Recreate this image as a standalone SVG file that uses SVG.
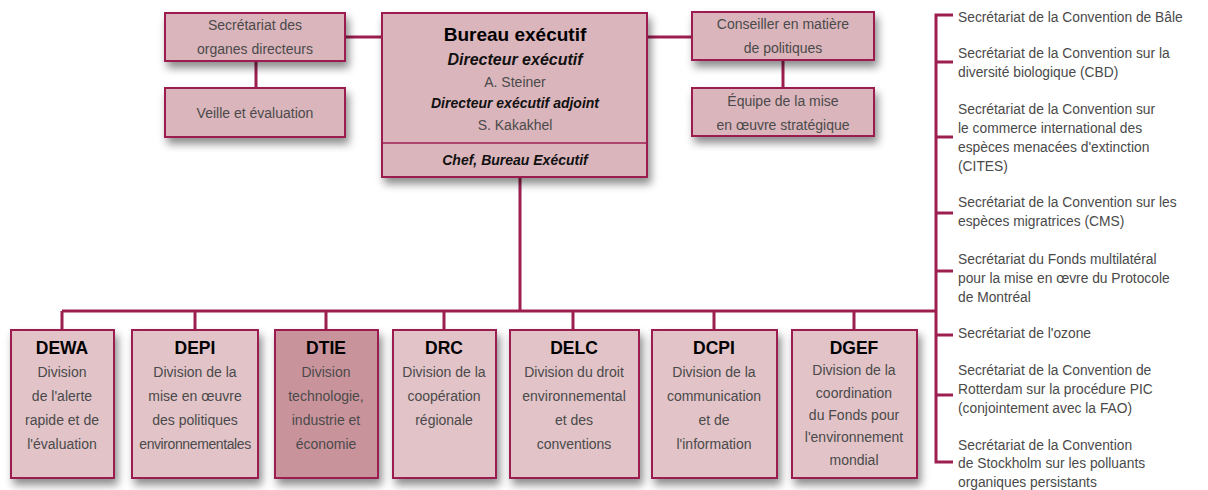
<svg xmlns="http://www.w3.org/2000/svg" width="1208" height="490" viewBox="0 0 1208 490">
<defs>
<filter id="sh" x="-20%" y="-20%" width="150%" height="150%">
<feDropShadow dx="3" dy="6" stdDeviation="4" flood-color="#000" flood-opacity="0.45"/>
</filter>
<style>
.box{fill:#dbb5bc;stroke:#9c1f50;stroke-width:2;filter:url(#sh)}
.lbox{fill:#e1c3c8;stroke:#9c1f50;stroke-width:2;filter:url(#sh)}
.dbox{fill:#c9939c;stroke:#9c1f50;stroke-width:2;filter:url(#sh)}
.ln{fill:none;stroke:#9c1f50;stroke-width:3}
text{font-family:"Liberation Sans",Arial,sans-serif;fill:#4a4a4a;font-size:14px}
.c{text-anchor:middle}
.t{font-weight:bold;fill:#000}
.h1{font-size:19px}
.h2{font-size:16px}
.h3{font-size:17.5px}
.bi{font-weight:bold;font-style:italic;fill:#111}
.r{font-size:13.8px}
.env{letter-spacing:-0.4px}
</style>
</defs>
<rect width="1208" height="490" fill="#fff"/>
<g id="connectors">
<line class="ln" x1="345" y1="37" x2="382" y2="37"/>
<line class="ln" x1="647" y1="37" x2="692" y2="37"/>
<line class="ln" x1="256" y1="61" x2="256" y2="88"/>
<line class="ln" x1="783" y1="60" x2="783" y2="88"/>
<line class="ln" x1="520" y1="177" x2="520" y2="311"/>
<line class="ln" x1="62" y1="311" x2="936" y2="311"/>
<line class="ln" x1="62" y1="311" x2="62" y2="330"/>
<line class="ln" x1="195" y1="311" x2="195" y2="330"/>
<line class="ln" x1="326" y1="311" x2="326" y2="330"/>
<line class="ln" x1="444" y1="311" x2="444" y2="330"/>
<line class="ln" x1="573" y1="311" x2="573" y2="330"/>
<line class="ln" x1="714" y1="311" x2="714" y2="330"/>
<line class="ln" x1="854" y1="311" x2="854" y2="330"/>
<path class="ln" d="M953 15H936V462H953"/>
<line class="ln" x1="936" y1="62" x2="953" y2="62"/>
<line class="ln" x1="936" y1="137" x2="953" y2="137"/>
<line class="ln" x1="936" y1="213" x2="953" y2="213"/>
<line class="ln" x1="936" y1="271" x2="953" y2="271"/>
<line class="ln" x1="936" y1="335" x2="953" y2="335"/>
<line class="ln" x1="936" y1="395" x2="953" y2="395"/>
</g>
<g id="secretariat-organes">
<rect class="box" x="165" y="13" width="180" height="48"/>
<text class="c" x="255" y="30">Secrétariat des</text>
<text class="c" x="255" y="54">organes directeurs</text>
</g>
<g id="veille">
<rect class="box" x="165" y="88" width="180" height="49"/>
<text class="c" x="255" y="118">Veille et évaluation</text>
</g>
<g id="bureau">
<rect class="box" x="382" y="13" width="265" height="164"/>
<line x1="382" y1="143" x2="647" y2="143" stroke="#9c1f50" stroke-width="1.5"/>
<text class="c t h1" x="515" y="41">Bureau exécutif</text>
<text class="c bi h2" x="515" y="65">Directeur exécutif</text>
<text class="c" x="515" y="87">A. Steiner</text>
<text class="c bi" x="515" y="108">Directeur exécutif adjoint</text>
<text class="c" x="515" y="130">S. Kakakhel</text>
<text class="c bi" x="515" y="165">Chef, Bureau Exécutif</text>
</g>
<g id="conseiller">
<rect class="box" x="692" y="12" width="182" height="48"/>
<text class="c" x="783" y="29">Conseiller en matière</text>
<text class="c" x="783" y="53">de politiques</text>
</g>
<g id="equipe">
<rect class="box" x="692" y="88" width="182" height="48"/>
<text class="c" x="783" y="106">Équipe de la mise</text>
<text class="c" x="783" y="130">en œuvre stratégique</text>
</g>
<g id="dewa">
<rect class="lbox" x="11" y="330" width="103" height="148"/>
<text class="c t h3" x="62" y="354">DEWA</text>
<text class="c" x="62" y="377">Division</text>
<text class="c" x="62" y="401">de l'alerte</text>
<text class="c" x="62" y="425">rapide et de</text>
<text class="c" x="62" y="449">l'évaluation</text>
</g>
<g id="depi">
<rect class="lbox" x="132" y="330" width="126" height="148"/>
<text class="c t h3" x="195" y="354">DEPI</text>
<text class="c" x="195" y="377">Division de la</text>
<text class="c" x="195" y="401">mise en œuvre</text>
<text class="c" x="195" y="425">des politiques</text>
<text class="c env" x="195" y="449">environnementales</text>
</g>
<g id="dtie">
<rect class="dbox" x="275" y="330" width="103" height="148"/>
<text class="c t h3" x="326" y="354">DTIE</text>
<text class="c" x="326" y="377">Division</text>
<text class="c" x="326" y="401">technologie,</text>
<text class="c" x="326" y="425">industrie et</text>
<text class="c" x="326" y="449">économie</text>
</g>
<g id="drc">
<rect class="lbox" x="393" y="330" width="103" height="148"/>
<text class="c t h3" x="444" y="354">DRC</text>
<text class="c" x="444" y="377">Division de la</text>
<text class="c" x="444" y="401">coopération</text>
<text class="c" x="444" y="425">régionale</text>
</g>
<g id="delc">
<rect class="lbox" x="510" y="330" width="129" height="148"/>
<text class="c t h3" x="574" y="354">DELC</text>
<text class="c" x="574" y="377">Division du droit</text>
<text class="c" x="574" y="401">environnemental</text>
<text class="c" x="574" y="425">et des</text>
<text class="c" x="574" y="449">conventions</text>
</g>
<g id="dcpi">
<rect class="lbox" x="652" y="330" width="125" height="148"/>
<text class="c t h3" x="714" y="354">DCPI</text>
<text class="c" x="714" y="377">Division de la</text>
<text class="c" x="714" y="401">communication</text>
<text class="c" x="714" y="425">et de</text>
<text class="c" x="714" y="449">l'information</text>
</g>
<g id="dgef">
<rect class="lbox" x="792" y="330" width="125" height="148"/>
<text class="c t h3" x="854" y="354">DGEF</text>
<text class="c" x="854" y="375">Division de la</text>
<text class="c" x="854" y="398">coordination</text>
<text class="c" x="854" y="420">du Fonds pour</text>
<text class="c" x="854" y="442">l'environnement</text>
<text class="c" x="854" y="465">mondial</text>
</g>
<g id="conventions">
<text class="r" x="958" y="22">Secrétariat de la Convention de Bâle</text>
<text class="r" x="958" y="58">Secrétariat de la Convention sur la</text>
<text class="r" x="958" y="77">diversité biologique (CBD)</text>
<text class="r" x="958" y="114">Secrétariat de la Convention sur</text>
<text class="r" x="958" y="133">le commerce international des</text>
<text class="r" x="958" y="152">espèces menacées d'extinction</text>
<text class="r" x="958" y="171">(CITES)</text>
<text class="r" x="958" y="207">Secrétariat de la Convention sur les</text>
<text class="r" x="958" y="226">espèces migratrices (CMS)</text>
<text class="r" x="958" y="264">Secrétariat du Fonds multilatéral</text>
<text class="r" x="958" y="283">pour la mise en œvre du Protocole</text>
<text class="r" x="958" y="302">de Montréal</text>
<text class="r" x="958" y="338">Secrétariat de l'ozone</text>
<text class="r" x="958" y="375">Secrétariat de la Convention de</text>
<text class="r" x="958" y="394">Rotterdam sur la procédure PIC</text>
<text class="r" x="958" y="413">(conjointement avec la FAO)</text>
<text class="r" x="958" y="450">Secrétariat de la Convention</text>
<text class="r" x="958" y="468">de Stockholm sur les polluants</text>
<text class="r" x="958" y="487">organiques persistants</text>
</g>
</svg>
